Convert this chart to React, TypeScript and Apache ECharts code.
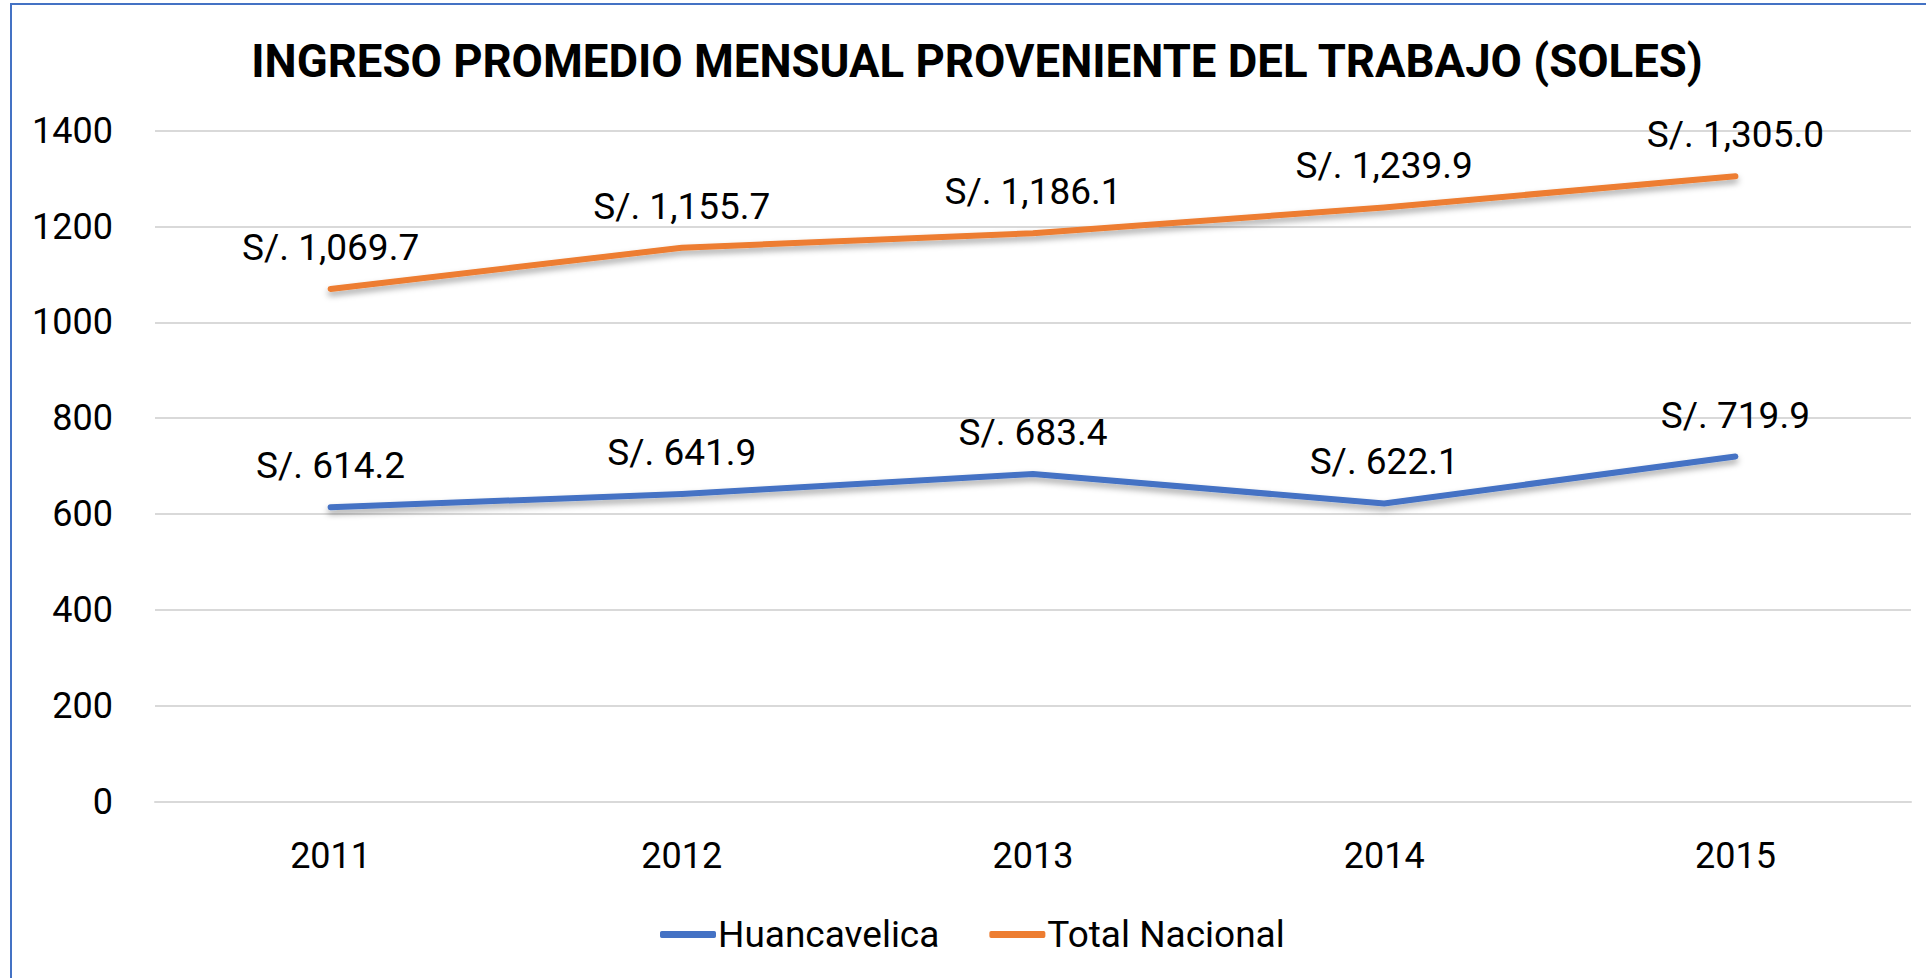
import React, { useEffect, useRef } from "react";
import * as echarts from "echarts";

const years = ["2011", "2012", "2013", "2014", "2015"];
const huancavelica = [614.2, 641.9, 683.4, 622.1, 719.9];
const totalNacional = [1069.7, 1155.7, 1186.1, 1239.9, 1305.0];
const seriesNames = ["Huancavelica", "Total Nacional"];
const titleText = "INGRESO PROMEDIO MENSUAL PROVENIENTE DEL TRABAJO (SOLES)";

const FONT = "Roboto, 'Noto Sans', sans-serif";

const fmt = (v: number) =>
  "S/. " + v.toLocaleString("en-US", { minimumFractionDigits: 1, maximumFractionDigits: 1 });

export default function App() {
  const ref = useRef<HTMLDivElement>(null);
  useEffect(() => {
    if (!ref.current) return;
    const chart = echarts.init(ref.current, undefined, { renderer: "svg" });
    const lineSeries = (name: string, data: number[], color: string) => ({
      name,
      type: "line",
      data,
      symbol: "circle",
      symbolSize: 0,
      showSymbol: true,
      smooth: false,
      lineStyle: {
        color,
        width: 6,
        cap: "round",
        join: "round",
        shadowColor: "rgba(0,0,0,0.35)",
        shadowBlur: 6,
        shadowOffsetY: 4,
      },
      itemStyle: { color },
      label: {
        show: true,
        position: "top",
        distance: 23,
        formatter: (p: any) => fmt(p.value),
        color: "#000",
        fontSize: 37,
        fontFamily: FONT,
      },
    });
    chart.setOption({
      animation: false,
      backgroundColor: "#fff",
      title: {
        text: titleText,
        left: 972,
        top: 33,
        textAlign: "center",
        textStyle: { fontFamily: FONT, fontWeight: "bold", fontSize: 45.5, color: "#000" },
      },
      legend: {
        data: seriesNames,
        left: 655,
        top: 911,
        itemWidth: 56,
        itemHeight: 7,
        itemGap: 50,
        icon: "roundRect",
        textStyle: { fontFamily: FONT, fontSize: 37, color: "#000", padding: [0, 0, 0, -3] },
      },
      grid: { left: 155, right: 15, top: 130.7, bottom: 176.5, containLabel: false },
      xAxis: {
        type: "category",
        data: years,
        boundaryGap: true,
        axisLine: { show: true, lineStyle: { color: "#D9D9D9", width: 2 } },
        axisTick: { show: false },
        axisLabel: { color: "#000", fontSize: 36, fontFamily: FONT, margin: 36 },
      },
      yAxis: {
        type: "value",
        min: 0,
        max: 1400,
        interval: 200,
        axisLine: { show: false },
        axisTick: { show: false },
        splitLine: { lineStyle: { color: "#D9D9D9", width: 2 } },
        axisLabel: {
          color: "#000",
          fontSize: 36,
          fontFamily: FONT,
          margin: 42,
          formatter: (v: number) => String(v),
        },
      },
      graphic: [
        {
          type: "rect",
          shape: { x: 11, y: 4, width: 2000, height: 1100 },
          style: { fill: "none", stroke: "#4472C4", lineWidth: 2 },
          silent: true,
          z: 100,
        },
      ],
      series: [
        lineSeries(seriesNames[0], huancavelica, "#4472C4"),
        lineSeries(seriesNames[1], totalNacional, "#ED7D31"),
      ],
    });
    return () => chart.dispose();
  }, []);
  return (
    <div
      ref={ref}
      style={{ position: "fixed", left: 0, top: 0, width: 1926, height: 978, background: "#fff" }}
    />
  );
}
